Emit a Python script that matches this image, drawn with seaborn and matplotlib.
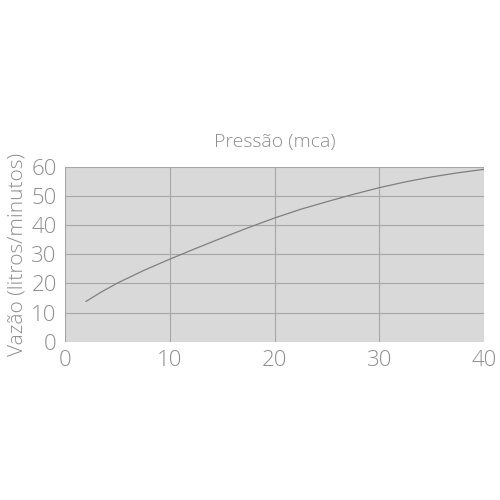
import matplotlib
matplotlib.use("Agg")
import matplotlib.pyplot as plt
import seaborn as sns
import pandas as pd

pressao = [2, 3.5, 5, 7.5, 10, 12.5, 15, 17.5, 20, 22.5, 25, 27.5, 30, 32.5, 35, 37.5, 40]
vazao = [13.8, 17.1, 20.1, 24.4, 28.3, 32.0, 35.6, 39.1, 42.4, 45.4, 48.0, 50.5, 52.8, 54.8, 56.5, 57.9, 59.1]
x_ticks = [0, 10, 20, 30, 40]
y_ticks = [0, 10, 20, 30, 40, 50, 60]

sns.set_theme(style="white")
plt.rcParams['font.family'] = ['Open Sans', 'DejaVu Sans']

df = pd.DataFrame({"x": pressao, "y": vazao})

txt = "#8e8e8e"
fig = plt.figure(figsize=(5, 5), dpi=100)
ax = fig.add_axes([0.13, 0.3166, 0.838, 0.35])
ax.set_facecolor("#d9d9d9")
sns.lineplot(data=df, x="x", y="y", ax=ax, color="#7f7f7f", linewidth=0.9)

ax.set_xlim(0, 40)
ax.set_ylim(0, 60)
ax.set_xticks(x_ticks)
ax.set_yticks(y_ticks)
ax.grid(True, color="#a6a6a6", linewidth=0.8)
ax.set_axisbelow(True)
for s in ax.spines.values():
    s.set_visible(False)
ax.tick_params(axis="both", length=3, width=0.8, color="#a6a6a6",
               labelsize=16, labelcolor=txt, pad=3)
for lab in ax.get_xticklabels() + ax.get_yticklabels():
    lab.set_fontweight("light")
ax.set_xlabel("")
ax.set_ylabel("Vazão (litros/minutos)", fontsize=15, color=txt,
              fontweight="light", labelpad=3)
ax.set_title("Pressão (mca)", fontsize=14, color=txt,
             fontweight="light", pad=14)

fig.savefig("out.png", dpi=100, facecolor="white")
